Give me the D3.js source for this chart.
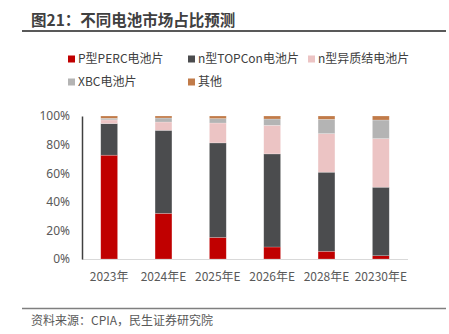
<!DOCTYPE html>
<meta charset="utf-8">
<head>
  <script src="https://d3js.org/d3.v7.min.js"></script>
  <style>
    body { margin: 0; font-family: 'Noto Sans CJK SC', 'Noto Sans', sans-serif; background: #fff; }
  </style>
</head>
<div id="my_dataviz"></div>
<script>
  // categories and series (percent)
  var years = ["2023年", "2024年E", "2025年E", "2026年E", "2028年E", "20230年E"];
  var seriesNames = ["P型PERC电池片", "n型TOPCon电池片", "n型异质结电池片", "XBC电池片", "其他"];
  var perc   = [72.6, 31.9, 15.1, 8.4, 5.4, 2.3];
  var topcon = [22.1, 58.1, 66.1, 65.1, 55.3, 47.9];
  var hjt    = [2.6, 5.8, 13.9, 20.0, 27.0, 34.0];
  var xbc    = [1.1, 2.8, 3.1, 4.4, 10.0, 13.0];
  var other  = [1.6, 1.4, 1.8, 2.1, 2.3, 2.8];
  var yTicks = [0, 20, 40, 60, 80, 100];
  var colors = ["#c00000", "#4b4c4e", "#ecc4c4", "#b4b4b4", "#c17b49"];

  var W = 449, H = 334;
  var svg = d3.select("#my_dataviz").append("svg")
    .attr("width", W).attr("height", H);

  // title
  svg.append("text").attr("x", 31).attr("y", 26)
    .style("font-size", "15.5px").style("font-weight", "bold").attr("fill", "#404040")
    .text("图21：不同电池市场占比预测");
  svg.append("line").attr("x1", 22).attr("x2", 446).attr("y1", 31).attr("y2", 31)
    .attr("stroke", "#595959").attr("stroke-width", 2);

  // legend
  var legPos = [[68, 59], [188, 59], [308, 59], [68, 82], [188, 82]];
  seriesNames.forEach(function (name, i) {
    var g = svg.append("g").attr("transform", "translate(" + legPos[i][0] + "," + legPos[i][1] + ")");
    g.append("rect").attr("x", 0).attr("y", -3.5).attr("width", 7).attr("height", 7).attr("fill", colors[i]);
    g.append("text").attr("x", 10).attr("y", 0).attr("dy", "0.35em")
      .style("font-size", "12px").attr("fill", "#404040").text(name);
  });

  var x = d3.scaleBand().domain(years).range([82, 408]).paddingInner(0.69).paddingOuter(0.345);
  var y = d3.scaleLinear().domain([0, 100]).range([259, 116]);

  var table = years.map(function (yr, i) {
    return { year: yr, s0: perc[i], s1: topcon[i], s2: hjt[i], s3: xbc[i], s4: other[i] };
  });
  var stack = d3.stack().keys(["s0", "s1", "s2", "s3", "s4"]);
  var layers = stack(table);

  svg.append("g").selectAll("g").data(layers).enter().append("g")
    .attr("fill", function (d, i) { return colors[i]; })
    .selectAll("rect").data(function (d) { return d; }).enter().append("rect")
    .attr("x", function (d) { return x(d.data.year); })
    .attr("width", x.bandwidth())
    .attr("y", function (d) { return y(d[1]); })
    .attr("height", function (d) { return y(d[0]) - y(d[1]); })
    .attr("stroke", "#ffffff").attr("stroke-opacity", 0.35).attr("stroke-width", 0.6);

  // baseline
  svg.append("line").attr("x1", 82).attr("x2", 408).attr("y1", y(0) + 0.5).attr("y2", y(0) + 0.5)
    .attr("stroke", "#d9d9d9").attr("stroke-width", 1);

  // y axis
  var yAxis = svg.append("g").attr("transform", "translate(82,0)")
    .call(d3.axisLeft(y).tickValues(yTicks).tickSize(0).tickPadding(12).tickFormat(function (d) { return d + "%"; }));
  yAxis.select(".domain").attr("stroke", "#404040").attr("stroke-width", 1.5);
  yAxis.selectAll("text").style("font-size", "12px").style("font-family", "'Noto Sans', sans-serif").attr("fill", "#595959");

  // x axis
  var xAxis = svg.append("g").attr("transform", "translate(0,259)")
    .call(d3.axisBottom(x).tickSize(0).tickPadding(13));
  xAxis.select(".domain").remove();
  xAxis.selectAll("text").style("font-size", "12px").style("font-family", "'Noto Sans CJK SC', sans-serif").attr("fill", "#595959");

  // footer
  svg.append("line").attr("x1", 22).attr("x2", 446).attr("y1", 308.5).attr("y2", 308.5)
    .attr("stroke", "#7f7f7f").attr("stroke-width", 1.5);
  svg.append("text").attr("x", 31).attr("y", 321).attr("dy", "0.35em")
    .style("font-size", "12px").attr("fill", "#595959")
    .text("资料来源：CPIA，民生证券研究院");
</script>
